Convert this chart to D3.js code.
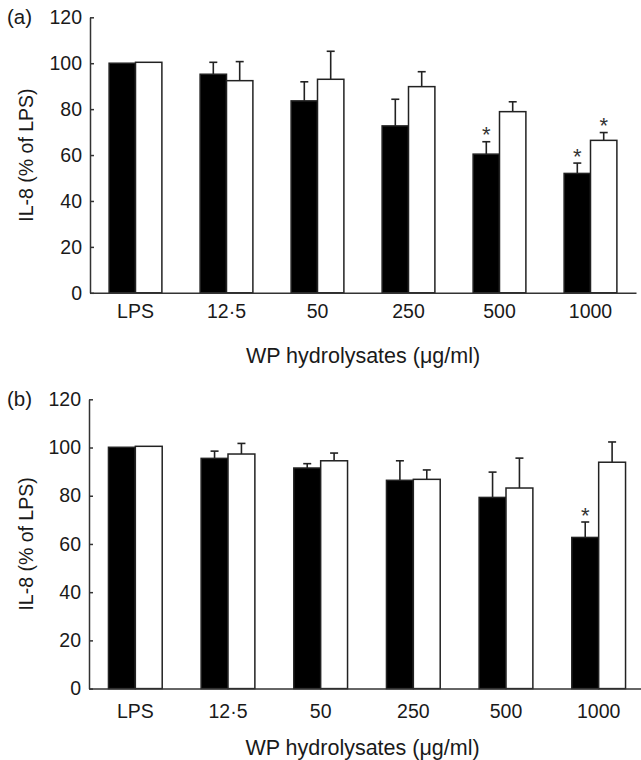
<!DOCTYPE html>
<html>
<head>
<meta charset="utf-8">
<script src="https://cdn.jsdelivr.net/npm/d3@7"></script>
<style>
  body { margin: 0; background: #fff; }
  svg text { font-family: "Liberation Sans", Arial, Helvetica, sans-serif; fill: #1a1a1a; }
</style>
</head>
<body>
<div id="chart"></div>
<script>
// doses on the x axis
var doses = ["LPS", "12·5", "50", "250", "500", "1000"];
var yTicks = [0, 20, 40, 60, 80, 100, 120];

// panel (a)
var aBlack = [100, 95.2, 83.6, 72.7, 60.4, 52.0];
var aBlackErr = [0, 5.2, 8.3, 11.6, 5.4, 4.5];
var aBlackSig = [false, false, false, false, true, true];
var aWhite = [100.4, 92.4, 93.0, 89.8, 78.9, 66.4];
var aWhiteErr = [0, 8.3, 12.2, 6.5, 4.3, 3.4];
var aWhiteSig = [false, false, false, false, false, true];

// panel (b)
var bBlack = [100.1, 95.5, 91.5, 86.4, 79.3, 62.7];
var bBlackErr = [0, 3.0, 1.8, 8.1, 10.5, 6.4];
var bBlackSig = [false, false, false, false, false, true];
var bWhite = [100.5, 97.3, 94.5, 86.8, 83.2, 93.9];
var bWhiteErr = [0, 4.4, 3.2, 3.9, 12.4, 8.4];
var bWhiteSig = [false, false, false, false, false, false];

var svg = d3.select("#chart").append("svg")
    .attr("width", 641)
    .attr("height", 760)
    .style("background-color", "white");

function draw_panel(p) {
    var g = svg.append("g").attr("class", "panel");

    var x = d3.scaleBand()
        .domain(doses)
        .range([p.left, p.right])
        .paddingInner(0.42)
        .paddingOuter(0.21);

    var y = d3.scaleLinear()
        .domain([0, 120])
        .range([p.bottom, p.top]);

    var half = x.bandwidth() / 2;

    var series = [
        {vals: p.black, errs: p.blackErr, sig: p.blackSig, fill: "#000000", off: 0},
        {vals: p.white, errs: p.whiteErr, sig: p.whiteSig, fill: "#ffffff", off: half}
    ];

    series.forEach(function(s) {
        var rows = doses.map(function(d, i) {
            return {dose: d, v: s.vals[i], e: s.errs[i], sig: s.sig[i]};
        });

        var sg = g.append("g");

        // error bars (upper only)
        var eb = sg.selectAll("g.err")
            .data(rows.filter(function(d) { return d.e > 0; }))
            .enter()
            .append("g")
            .attr("class", "err")
            .attr("stroke", "#222")
            .attr("stroke-width", 1.6);
        eb.append("line")
            .attr("x1", function(d) { return x(d.dose) + s.off + half / 2; })
            .attr("x2", function(d) { return x(d.dose) + s.off + half / 2; })
            .attr("y1", function(d) { return y(d.v); })
            .attr("y2", function(d) { return y(d.v + d.e); });
        eb.append("line")
            .attr("x1", function(d) { return x(d.dose) + s.off + half / 2 - 4; })
            .attr("x2", function(d) { return x(d.dose) + s.off + half / 2 + 4; })
            .attr("y1", function(d) { return y(d.v + d.e); })
            .attr("y2", function(d) { return y(d.v + d.e); });

        sg.selectAll("rect")
            .data(rows)
            .enter()
            .append("rect")
            .attr("x", function(d) { return x(d.dose) + s.off; })
            .attr("y", function(d) { return y(d.v); })
            .attr("width", half)
            .attr("height", function(d) { return y(0) - y(d.v); })
            .attr("fill", s.fill)
            .attr("stroke", "#222")
            .attr("stroke-width", 1.5);

        // significance stars
        sg.selectAll("text.star")
            .data(rows.filter(function(d) { return d.sig; }))
            .enter()
            .append("text")
            .attr("class", "star")
            .attr("x", function(d) { return x(d.dose) + s.off + half / 2; })
            .attr("y", function(d) { return y(d.v + d.e) + 0.5; })
            .style("text-anchor", "middle")
            .style("font-size", "22px")
            .style("fill", "#333")
            .text("*");
    });

    // y axis with small inward ticks
    var yAxis = g.append("g")
        .attr("transform", "translate(" + p.left + ",0)")
        .call(d3.axisLeft(y).tickValues(yTicks).tickSizeInner(-4).tickSizeOuter(0).tickPadding(8));
    yAxis.selectAll("text").style("font-size", "19.5px").attr("fill", "#1a1a1a");

    // x axis
    var xAxis = g.append("g")
        .attr("transform", "translate(0," + p.bottom + ")")
        .call(d3.axisBottom(x).tickSize(0).tickSizeOuter(0).tickPadding(p.xPad));
    xAxis.selectAll("text").style("font-size", "19.5px").attr("fill", "#1a1a1a");

    g.selectAll(".domain, .tick line")
        .attr("stroke", "#333")
        .attr("stroke-width", 1.5);

    g.append("text")
        .attr("x", 7)
        .attr("y", p.top + 7)
        .style("font-size", "20.5px")
        .text(p.tag);

    g.append("text")
        .attr("transform", "translate(33," + ((p.top + p.bottom) / 2) + ") rotate(-90)")
        .style("text-anchor", "middle")
        .style("font-size", "19.5px")
        .text("IL-8 (% of LPS)");

    g.append("text")
        .attr("x", (p.left + 636) / 2)
        .attr("y", p.titleY)
        .style("text-anchor", "middle")
        .style("font-size", "21.5px")
        .text("WP hydrolysates (μg/ml)");
}

draw_panel({
    tag: "(a)", left: 90, right: 636, top: 17.3, bottom: 292.8, xPad: 11.2, titleY: 363,
    black: aBlack, blackErr: aBlackErr, blackSig: aBlackSig,
    white: aWhite, whiteErr: aWhiteErr, whiteSig: aWhiteSig
});

draw_panel({
    tag: "(b)", left: 89, right: 645, top: 399.3, bottom: 688.6, xPad: 15.2, titleY: 755,
    black: bBlack, blackErr: bBlackErr, blackSig: bBlackSig,
    white: bWhite, whiteErr: bWhiteErr, whiteSig: bWhiteSig
});
</script>
</body>
</html>
